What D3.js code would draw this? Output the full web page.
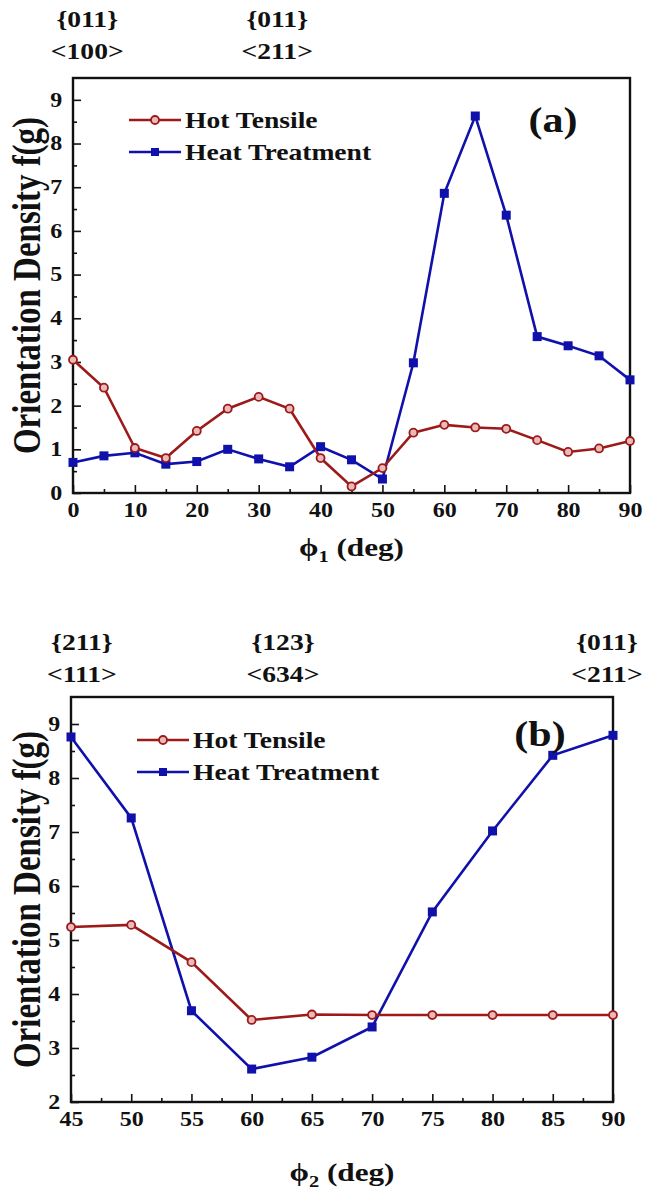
<!DOCTYPE html>
<html>
<head>
<meta charset="utf-8">
<script src="https://cdn.jsdelivr.net/npm/d3@7"></script>
<style>
  body { margin: 0; background: #fff; }
  text { font-family: "Liberation Serif", "Times New Roman", serif; font-weight: bold; fill: #111; }
</style>
</head>
<body>
<svg id="chart" width="658" height="1194"></svg>
<script>
///// Data

// panel (a): phi1 scan
let phi1 = [0, 5, 10, 15, 20, 25, 30, 35, 40, 45, 50, 55, 60, 65, 70, 75, 80, 85, 90];
let hotTensileA = [3.05, 2.41, 1.03, 0.80, 1.42, 1.93, 2.20, 1.93, 0.80, 0.15, 0.57, 1.38, 1.56, 1.50, 1.47, 1.21, 0.94, 1.02, 1.19];
let heatTreatA = [0.70, 0.85, 0.92, 0.66, 0.72, 1.00, 0.78, 0.60, 1.06, 0.76, 0.32, 2.98, 6.86, 8.63, 6.36, 3.58, 3.37, 3.14, 2.59];

// panel (b): phi2 scan
let phi2 = [45, 50, 55, 60, 65, 70, 75, 80, 85, 90];
let hotTensileB = [5.24, 5.28, 4.59, 3.52, 3.62, 3.61, 3.61, 3.61, 3.61, 3.61];
let heatTreatB = [8.76, 7.26, 3.69, 2.61, 2.83, 3.39, 5.52, 7.02, 8.42, 8.79];

let seriesNames = ["Hot Tensile", "Heat Treatment"];
// orientation labels above each panel, placed at an angle value
let annotA = [{ at: 2.3, top: "{011}", bottom: "<100>" }, { at: 33, top: "{011}", bottom: "<211>" }];
let annotB = [{ at: 45.9, top: "{211}", bottom: "<111>" }, { at: 62.6, top: "{123}", bottom: "<634>" }, { at: 89.5, top: "{011}", bottom: "<211>" }];

let red = "#9c1a1a", blue = "#1010aa";
let stretch = 1.2;   // the picture's lettering is wide

let svg = d3.select("#chart");

// horizontally stretched text helper
function label(g, x, y, txt, size, anchor = "middle") {
    return g.append("text")
        .attr("transform", `translate(${x},${y}) scale(${stretch},1)`)
        .attr("text-anchor", anchor)
        .style("font-size", size + "px")
        .text(txt);
}

function drawPanel(p) {
    let x = d3.scaleLinear().domain(p.xDomain).range([p.left, p.right]);
    let y = d3.scaleLinear().domain(p.yDomain).range([p.bottom, p.top]);
    let g = svg.append("g");

    // minor ticks
    g.append("g")
        .attr("transform", `translate(0,${p.bottom})`)
        .call(d3.axisBottom(x).tickValues(p.xMinor).tickSize(-4).tickFormat(""))
        .call(a => a.select(".domain").remove());
    g.append("g")
        .attr("transform", `translate(${p.left},0)`)
        .call(d3.axisLeft(y).tickValues(p.yMinor).tickSize(-4).tickFormat(""))
        .call(a => a.select(".domain").remove());

    // major ticks + labels
    let xa = g.append("g")
        .attr("transform", `translate(0,${p.bottom})`)
        .call(d3.axisBottom(x).tickValues(p.xTicks).tickSize(-8).tickPadding(10).tickFormat(d3.format("d")));
    let ya = g.append("g")
        .attr("transform", `translate(${p.left},0)`)
        .call(d3.axisLeft(y).tickValues(p.yTicks).tickSize(-8).tickPadding(9).tickFormat(d3.format("d")));
    [xa, ya].forEach(a => {
        a.select(".domain").remove();
        a.selectAll("text")
            .style("font-size", "20px")
            .attr("fill", "#111")
            .attr("transform", `scale(${stretch},1)`);
    });
    g.selectAll(".tick line").attr("stroke", "#111").attr("stroke-width", 1.6);

    // frame
    g.append("rect")
        .attr("x", p.left).attr("y", p.top)
        .attr("width", p.right - p.left).attr("height", p.bottom - p.top)
        .attr("fill", "none").attr("stroke", "#111").attr("stroke-width", 2.4);

    let line = d3.line().x((d, i) => x(p.xs[i])).y(d => y(d));

    // heat treatment first, hot tensile on top
    g.append("path").datum(p.heat)
        .attr("d", line).attr("fill", "none").attr("stroke", blue).attr("stroke-width", 2.6);
    g.append("path").datum(p.hot)
        .attr("d", line).attr("fill", "none").attr("stroke", red).attr("stroke-width", 2.6);

    g.selectAll(".sq").data(p.heat).join("rect")
        .attr("x", (d, i) => x(p.xs[i]) - 4.5).attr("y", d => y(d) - 4.5)
        .attr("width", 9).attr("height", 9).attr("fill", blue);
    g.selectAll(".ci").data(p.hot).join("circle")
        .attr("cx", (d, i) => x(p.xs[i])).attr("cy", d => y(d)).attr("r", 4)
        .attr("fill", "#eab9b9").attr("stroke", red).attr("stroke-width", 1.8);

    // legend
    let lg = g.append("g");
    [[red, 0], [blue, 1]].forEach(([c, k]) => {
        let ly = p.legY + k * 32;
        lg.append("line").attr("x1", p.legX).attr("x2", p.legX + 52)
            .attr("y1", ly).attr("y2", ly).attr("stroke", c).attr("stroke-width", 2.6);
        if (k === 0) {
            lg.append("circle").attr("cx", p.legX + 26).attr("cy", ly).attr("r", 4)
                .attr("fill", "#eab9b9").attr("stroke", red).attr("stroke-width", 1.8);
        } else {
            lg.append("rect").attr("x", p.legX + 22).attr("y", ly - 4).attr("width", 8).attr("height", 8).attr("fill", blue);
        }
        label(lg, p.legX + 56, ly + 8, seriesNames[k], 23, "start");
    });

    // panel tag
    label(g, p.tagX, p.tagY, p.tag, 35);

    // axis titles
    g.append("text")
        .attr("transform", `translate(${p.yTitleX},${(p.top + p.bottom) / 2}) rotate(-90) scale(1,${stretch})`)
        .attr("text-anchor", "middle")
        .style("font-size", "33px")
        .text("Orientation Density f(g)");

    let t = label(g, (p.left + p.right) / 2, p.xTitleY, "", 26);
    t.append("tspan").text("\u03d5");
    t.append("tspan").attr("dy", 6).style("font-size", "17px").text(p.sub);
    t.append("tspan").attr("dy", -6).text(" (deg)");

    // orientation annotations above the frame
    p.annot.forEach(a => {
        label(g, x(a.at), p.annotY, a.top, 23);
        label(g, x(a.at), p.annotY + 32, a.bottom, 23);
    });
}

drawPanel({
    left: 73, right: 630, top: 78, bottom: 493,
    xDomain: [0, 90], yDomain: [0, 9.5],
    xTicks: d3.range(0, 91, 10), xMinor: d3.range(5, 90, 10),
    yTicks: d3.range(0, 10, 1), yMinor: d3.range(0.5, 9.5, 1),
    xs: phi1, hot: hotTensileA, heat: heatTreatA,
    legX: 129, legY: 120, tag: "(a)", tagX: 553, tagY: 132,
    yTitleX: 40, xTitleY: 556, sub: "1",
    annot: annotA, annotY: 27
});

drawPanel({
    left: 71, right: 613, top: 697, bottom: 1102,
    xDomain: [45, 90], yDomain: [2, 9.5],
    xTicks: d3.range(45, 91, 5), xMinor: d3.range(47.5, 90, 5),
    yTicks: d3.range(2, 10, 1), yMinor: d3.range(2.5, 9.5, 1),
    xs: phi2, hot: hotTensileB, heat: heatTreatB,
    legX: 137, legY: 740, tag: "(b)", tagX: 540, tagY: 746,
    yTitleX: 40, xTitleY: 1181, sub: "2",
    annot: annotB, annotY: 650
});
</script>
</body>
</html>
